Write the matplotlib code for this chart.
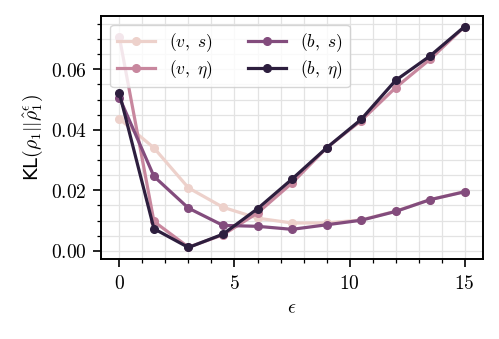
import matplotlib
matplotlib.use('Agg')
import matplotlib.pyplot as plt
import seaborn as sns
from matplotlib.ticker import MultipleLocator, FuncFormatter

plt.rcParams['mathtext.fontset'] = 'cm'

# data
eps = [0, 1.5, 3, 4.5, 6, 7.5, 9, 10.5, 12, 13.5, 15]
v_s = [0.0436, 0.0340, 0.0208, 0.0144, 0.0108, 0.0092, 0.0092, 0.0102, 0.0131, 0.0169, 0.0196]
v_eta = [0.0705, 0.0097, 0.0012, 0.0053, 0.0125, 0.0224, 0.0340, 0.0430, 0.0539, 0.0633, 0.0741]
b_s = [0.0506, 0.0246, 0.0141, 0.0084, 0.0081, 0.0071, 0.0086, 0.0101, 0.0130, 0.0169, 0.0195]
b_eta = [0.0520, 0.0073, 0.0011, 0.0055, 0.0139, 0.0237, 0.0340, 0.0434, 0.0563, 0.0644, 0.0741]
labels = [r'$(v,\ s)$', r'$(v,\ \eta)$', r'$(b,\ s)$', r'$(b,\ \eta)$']

colors = sns.cubehelix_palette(4)

fig = plt.figure(figsize=(4.99, 3.39), dpi=100)
ax = fig.add_axes([0.2034, 0.236, 0.7636, 0.7168])

for series, lab, c in zip([v_s, v_eta, b_s, b_eta], labels, colors):
    ax.plot(eps, series, '-o', color=c, lw=2.3, ms=5.5, label=lab)

ax.set_xlim(-0.78, 15.78)
ax.set_ylim(-0.0027, 0.0776)
ax.xaxis.set_major_locator(MultipleLocator(5))
ax.xaxis.set_minor_locator(MultipleLocator(1))
ax.yaxis.set_major_locator(MultipleLocator(0.02))
ax.yaxis.set_minor_locator(MultipleLocator(0.005))
ax.xaxis.set_major_formatter(FuncFormatter(lambda v, p: r'$%d$' % v))
ax.yaxis.set_major_formatter(FuncFormatter(lambda v, p: r'$%.2f$' % v))
ax.tick_params(which='major', length=5.5, width=1.2, labelsize=14, pad=5)
ax.tick_params(which='minor', length=3, width=0.9)
ax.grid(True, which='both', color='#e3e3e3', lw=0.9)
ax.set_axisbelow(True)
for s in ax.spines.values():
    s.set_linewidth(1.4)
    s.set_color('black')

ax.set_xlabel(r'$\epsilon$', fontsize=14)
ax.set_ylabel(r'KL$(\rho_1||\hat{\rho}_1^\epsilon)$', fontsize=14)
ax.legend(loc='upper left', ncol=2, fontsize=12.5, framealpha=0.8, columnspacing=2.0,
          labelspacing=0.2, handlelength=2.2, borderaxespad=0.5)

fig.savefig('out.png', dpi=100)
